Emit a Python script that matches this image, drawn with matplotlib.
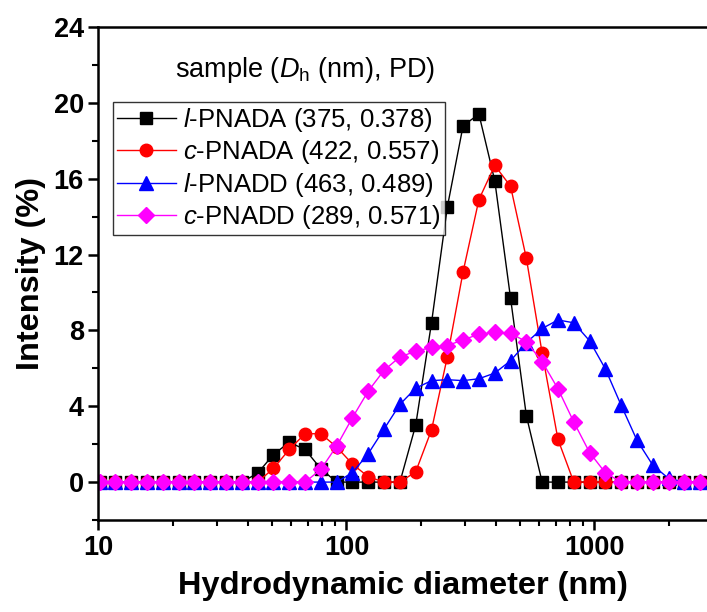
import matplotlib
matplotlib.use("Agg")
import matplotlib.pyplot as plt
from matplotlib.ticker import LogLocator, FixedLocator, MultipleLocator, NullFormatter, FuncFormatter

plt.rcParams['font.family'] = ['Liberation Sans', 'DejaVu Sans']
plt.rcParams['mathtext.fontset'] = 'custom'
plt.rcParams['mathtext.rm'] = 'Liberation Sans'
plt.rcParams['mathtext.it'] = 'Liberation Sans:italic'
plt.rcParams['mathtext.bf'] = 'Liberation Sans:bold'

# size classes (nm)
size_nm = [10.10, 11.70, 13.54, 15.69, 18.17, 21.04, 24.36, 28.21, 32.67, 37.84,
           43.82, 50.75, 58.77, 68.06, 78.82, 91.28, 105.7, 122.4, 141.8, 164.2,
           190.1, 220.2, 255.0, 295.3, 342.0, 396.1, 458.7, 531.2, 615.1, 712.4,
           825.0, 955.4, 1106, 1281, 1484, 1718, 1990, 2305, 2669, 3091]

l_pnada = [0, 0, 0, 0, 0, 0, 0, 0, 0, 0,
           0.47, 1.45, 2.1, 1.72, 0.7, 0, 0, 0, 0, 0,
           3.0, 8.4, 14.5, 18.8, 19.4, 15.9, 9.7, 3.5, 0, 0,
           0, 0, 0, 0, 0, 0, 0, 0, 0, 0]
c_pnada = [0, 0, 0, 0, 0, 0, 0, 0, 0, 0,
           0, 0.72, 1.72, 2.55, 2.55, 1.85, 0.95, 0.28, 0, 0,
           0.54, 2.75, 6.6, 11.1, 14.9, 16.7, 15.6, 11.8, 6.8, 2.25,
           0, 0, 0, 0, 0, 0, 0, 0, 0, 0]
l_pnadd = [0, 0, 0, 0, 0, 0, 0, 0, 0, 0,
           0, 0, 0, 0, 0, 0, 0.5, 1.5, 2.8, 4.1,
           4.95, 5.35, 5.4, 5.35, 5.45, 5.75, 6.4, 7.35, 8.1, 8.55,
           8.4, 7.45, 5.97, 4.05, 2.2, 0.89, 0.19, 0, 0, 0]
c_pnadd = [0, 0, 0, 0, 0, 0, 0, 0, 0, 0,
           0, 0, 0, 0, 0.67, 1.9, 3.4, 4.8, 5.9, 6.6,
           6.9, 7.1, 7.2, 7.5, 7.8, 7.9, 7.85, 7.4, 6.35, 4.92,
           3.17, 1.56, 0.49, 0, 0, 0, 0, 0, 0, 0]

labels = [r'$\mathit{l}$-PNADA (375, 0.378)',
          r'$\mathit{c}$-PNADA (422, 0.557)',
          r'$\mathit{l}$-PNADD (463, 0.489)',
          r'$\mathit{c}$-PNADD (289, 0.571)']

fig = plt.figure(figsize=(7.07, 6.12), dpi=100)
ax = fig.add_axes([0.1393, 0.1503, 0.8607, 0.8056])

ax.plot(size_nm, l_pnada, color='black', marker='s', ms=8, lw=1, label=labels[0])
ax.plot(size_nm, c_pnada, color='red', marker='o', ms=9, lw=1, label=labels[1])
ax.plot(size_nm, l_pnadd, color='blue', marker='^', ms=9.5, lw=1, label=labels[2])
ax.plot(size_nm, c_pnadd, color='magenta', marker='D', ms=8.5, lw=1, label=labels[3])

ax.set_xscale('log')
ax.set_xlim(10, 2842)
ax.set_ylim(-2, 24)

ax.xaxis.set_major_locator(FixedLocator([10, 100, 1000, 10000]))
ax.xaxis.set_major_formatter(FuncFormatter(lambda v, p: '%d' % v))
ax.xaxis.set_minor_locator(LogLocator(base=10, subs=range(2, 10)))
ax.xaxis.set_minor_formatter(NullFormatter())
ax.yaxis.set_major_locator(MultipleLocator(4))
ax.yaxis.set_minor_locator(MultipleLocator(2))

ax.spines['right'].set_visible(False)
for s in ['left', 'bottom', 'top']:
    ax.spines[s].set_linewidth(1.8)
ax.tick_params(which='major', direction='out', length=7.5, width=1.8, labelsize=19.5, pad=3)
ax.tick_params(which='minor', direction='out', length=4.5, width=1.5)
ax.tick_params(top=False, right=False, which='both')
for t in ax.get_xticklabels() + ax.get_yticklabels():
    t.set_fontweight('bold')

ax.set_xlabel('Hydrodynamic diameter (nm)', fontsize=23.4, fontweight='bold')
ax.set_ylabel('Intensity (%)', fontsize=23.4, fontweight='bold')
ax.xaxis.set_label_coords(0.5, -0.104)
ax.yaxis.set_label_coords(-0.086, 0.501)

ax.text(0.1257, 0.912, r'sample ($\mathit{D}_{\mathrm{h}}$ (nm), PD)', transform=ax.transAxes,
        fontsize=19.5, va='center', ha='left')

leg = ax.legend(loc='upper left', bbox_to_anchor=(0.0233, 0.8485), fontsize=18.5,
                frameon=True, fancybox=False, borderpad=0.15, labelspacing=0.18,
                handlelength=2.3, handletextpad=0.3, borderaxespad=0)
leg.get_frame().set_edgecolor('black')
leg.get_frame().set_linewidth(1.0)

fig.savefig('out.png', dpi=100)
